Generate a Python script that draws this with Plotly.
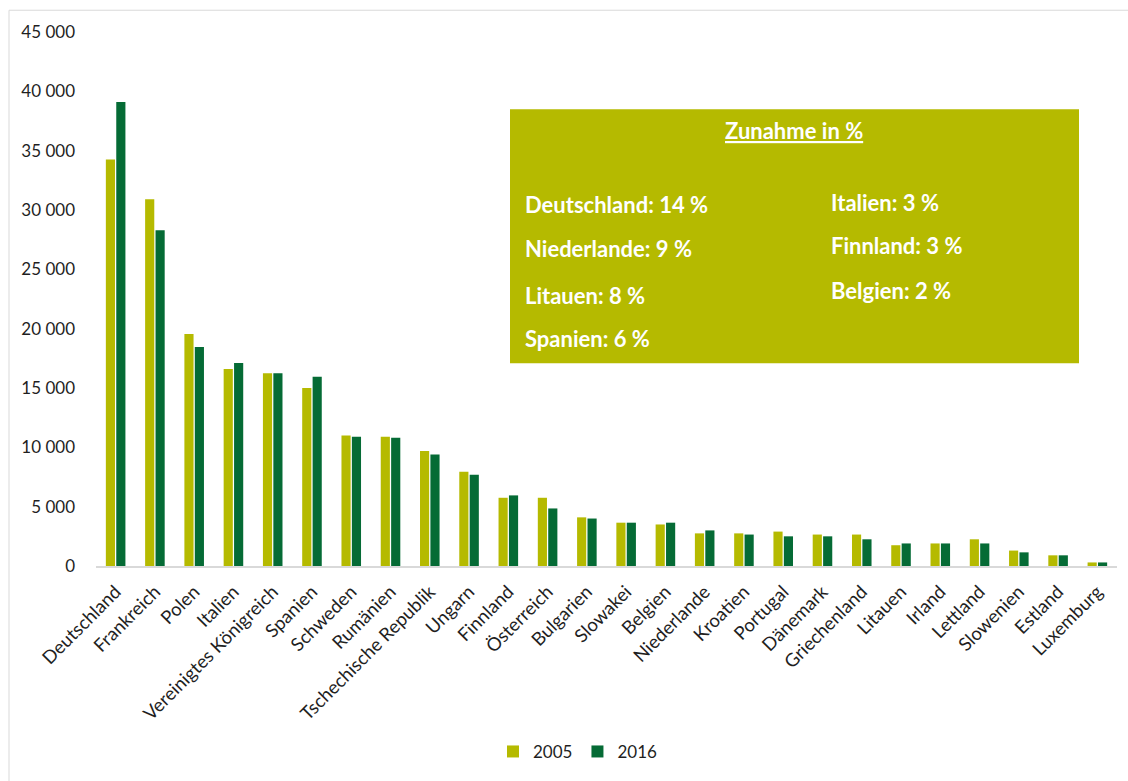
import plotly.graph_objects as go

countries = ["Deutschland", "Frankreich", "Polen", "Italien", "Vereinigtes Königreich", "Spanien",
             "Schweden", "Rumänien", "Tschechische Republik", "Ungarn", "Finnland", "Österreich",
             "Bulgarien", "Slowakei", "Belgien", "Niederlande", "Kroatien", "Portugal", "Dänemark",
             "Griechenland", "Litauen", "Irland", "Lettland", "Slowenien", "Estland", "Luxemburg"]
v2005 = [34250, 30900, 19550, 16600, 16250, 15000, 11000, 10900, 9700, 7950, 5750, 5750,
         4100, 3650, 3500, 2750, 2750, 2900, 2650, 2650, 1750, 1900, 2250, 1300, 900, 300]
v2016 = [39100, 28300, 18450, 17100, 16250, 15950, 10900, 10800, 9400, 7700, 5950, 4850,
         4000, 3650, 3650, 3000, 2650, 2500, 2500, 2250, 1900, 1900, 1900, 1150, 900, 300]
series_names = ["2005", "2016"]
tick_vals = [0, 5000, 10000, 15000, 20000, 25000, 30000, 35000, 40000, 45000]

box_title = "Zunahme in %"
left_items = ["Deutschland: 14 %", "Niederlande: 9 %", "Litauen: 8 %", "Spanien: 6 %"]
right_items = ["Italien: 3 %", "Finnland: 3 %", "Belgien: 2 %"]

C2005 = "#b5ba00"
C2016 = "#056b35"
FONT = "Lato, 'Open Sans', sans-serif"
TXT = "#1f1f1f"

fig = go.Figure()
fig.add_trace(go.Bar(x=countries, y=v2005, name=series_names[0], marker_color=C2005,
                     marker_line_width=0))
fig.add_trace(go.Bar(x=countries, y=v2016, name=series_names[1], marker_color=C2016,
                     marker_line_width=0))

# plot area in pixels: x 96..1117, y 32..572
L, R, T, B = 96, 1117, 32, 572
W, H = R - L, B - T
def px(x):
    return (x - L) / W
def py(y):
    return (B - y) / H

shapes = [
    dict(type="rect", xref="paper", yref="paper", x0=px(9), x1=px(1140), y0=py(800), y1=py(10),
         line=dict(color="#d9d9d9", width=1), fillcolor="rgba(0,0,0,0)", layer="below"),
    dict(type="rect", xref="paper", yref="paper", x0=px(510), x1=px(1079), y0=py(367), y1=py(110),
         line=dict(width=0), fillcolor=C2005, layer="above"),
]

annotations = [
    dict(text="<b>" + box_title + "</b>", xref="paper", yref="paper", x=px(794), y=py(132),
         xanchor="center", yanchor="middle", showarrow=False,
         font=dict(family=FONT, size=22, color="white", lineposition="under")),
]
left_y = [206, 251, 298, 342]
right_y = [204, 248, 293]
for t, yy in zip(left_items, left_y):
    annotations.append(dict(text="<b>" + t + "</b>", xref="paper", yref="paper", x=px(523), y=py(yy),
                            xanchor="left", yanchor="middle", showarrow=False,
                            font=dict(family=FONT, size=22, color="white")))
for t, yy in zip(right_items, right_y):
    annotations.append(dict(text="<b>" + t + "</b>", xref="paper", yref="paper", x=px(829), y=py(yy),
                            xanchor="left", yanchor="middle", showarrow=False,
                            font=dict(family=FONT, size=22, color="white")))

fig.update_layout(
    width=1128, height=781,
    margin=dict(l=L, r=1128 - R, t=T, b=781 - B),
    paper_bgcolor="white", plot_bgcolor="white",
    barmode="group", bargap=0.47, bargroupgap=0.12,
    separators=", ",
    font=dict(family=FONT, size=17, color=TXT),
    showlegend=True,
    legend=dict(orientation="h", x=px(578), xanchor="center", y=py(760), yanchor="middle",
                font=dict(family=FONT, size=17, color=TXT), itemsizing="constant",
                itemwidth=30, traceorder="normal"),
    shapes=shapes,
    annotations=annotations,
    xaxis=dict(tickangle=-45, showgrid=False, showline=True, linecolor="#d9d9d9", linewidth=1.5,
               ticks="", ticklabelstandoff=6, tickfont=dict(family=FONT, size=18.5, color=TXT)),
    yaxis=dict(range=[0, 45000], tickvals=tick_vals, tickformat=",d", showgrid=False,
               zeroline=False, showline=False, ticks="", ticklabelstandoff=20,
               tickfont=dict(family=FONT, size=17, color=TXT)),
)

fig.write_html("out.html")
